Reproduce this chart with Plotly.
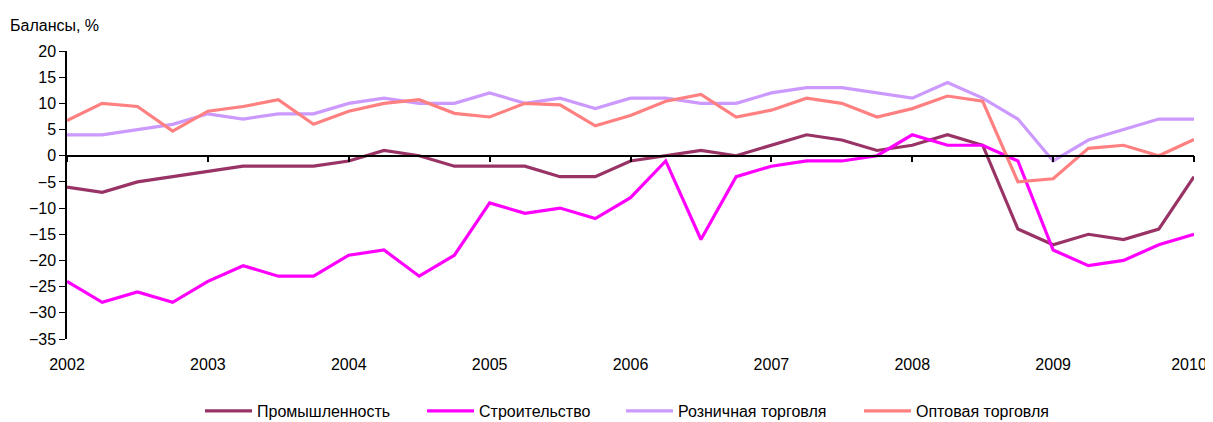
import plotly.graph_objects as go

# Quarterly observations, 2002Q1 .. 2010Q1
start_year = 2002
n_points = 33
x_vals = [start_year + i * 0.25 for i in range(n_points)]

industry = [-6, -7, -5, -4, -3, -2, -2, -2, -1, 1, 0, -2, -2, -2, -4, -4,
            -1, 0, 1, 0, 2, 4, 3, 1, 2, 4, 2, -14, -17, -15, -16, -14, -4]
construction = [-24, -28, -26, -28, -24, -21, -23, -23, -19, -18, -23, -19, -9, -11, -10, -12,
                -8, -1, -16, -4, -2, -1, -1, 0, 4, 2, 2, -1, -18, -21, -20, -17, -15]
retail = [4, 4, 5, 6, 8, 7, 8, 8, 10, 11, 10, 10, 12, 10, 11, 9,
          11, 11, 10, 10, 12, 13, 13, 12, 11, 14, 11, 7, -1, 3, 5, 7, 7]
wholesale = [6.7, 10, 9.4, 4.7, 8.5, 9.4, 10.7, 6, 8.5, 10, 10.7, 8.1, 7.4, 10, 9.7, 5.7,
             7.7, 10.4, 11.7, 7.4, 8.7, 11, 10, 7.4, 9, 11.4, 10.4, -5, -4.4, 1.4, 2, 0, 3.1]

series_names = ["Промышленность", "Строительство", "Розничная торговля", "Оптовая торговля"]
series_values = [industry, construction, retail, wholesale]
series_colors = ["#993366", "#FF00FF", "#CC99FF", "#FF8080"]

year_ticks = list(range(2002, 2011))
y_min, y_max = -35, 20

FONT = "Liberation Sans Narrow, Arial Narrow, Liberation Sans, sans-serif"

# page body has an 8px margin, so the figure is laid out 8px right/down
OFF = 8
W, H = 1213 - OFF, 422 - OFF
ML, MR, MT, MB = 67 - OFF, 19, 51 - OFF, 83
pw, ph = W - ML - MR, H - MT - MB

# keep the last year label inside the visible page edge
px_per_year = pw / (year_ticks[-1] - year_ticks[0])
label_pos = [float(y) for y in year_ticks]
label_pos[-1] -= 5 / px_per_year

legend_ids = ["legend", "legend2", "legend3", "legend4"]
legend_line_px = [206, 428, 627, 865]   # window x where each legend line sample starts
LEG_PAD = 6

fig = go.Figure()
for name, vals, col, lid in zip(series_names, series_values, series_colors, legend_ids):
    fig.add_trace(go.Scatter(x=x_vals, y=vals, mode="lines", name=name, legend=lid,
                             line=dict(color=col, width=3.2)))

# helper trace for the axis drawn at zero
fig.add_trace(go.Scatter(x=x_vals, y=industry, mode="lines", xaxis="x2",
                         line=dict(width=0), opacity=0, showlegend=False,
                         hoverinfo="skip"))

legend_y = -((411 - OFF) - (H - MB)) / ph
legend_layout = {}
for lid, px in zip(legend_ids, legend_line_px):
    legend_layout[lid] = dict(x=(px - OFF - LEG_PAD - ML) / pw, xanchor="left",
                              y=legend_y, yanchor="middle",
                              font=dict(size=16), itemwidth=47,
                              borderwidth=0, bgcolor="rgba(0,0,0,0)")

fig.update_layout(
    width=W, height=H,
    margin=dict(l=ML, r=MR, t=MT, b=MB, autoexpand=False),
    paper_bgcolor="white", plot_bgcolor="white",
    font=dict(family=FONT, size=16, color="#000000"),
    xaxis=dict(range=[2002, 2010], tickvals=label_pos, ticktext=[str(y) for y in year_ticks],
               showline=False, showgrid=False, zeroline=False, ticks="",
               ticklabelstandoff=14, automargin=False),
    xaxis2=dict(range=[2002, 2010], overlaying="x", anchor="free",
                position=(0 - y_min) / (y_max - y_min), side="bottom",
                tickvals=year_ticks, showticklabels=False,
                showline=True, linecolor="black", linewidth=1.5,
                ticks="outside", ticklen=6, tickwidth=1.5, tickcolor="black",
                showgrid=False, zeroline=False, automargin=False),
    yaxis=dict(range=[y_min, y_max], dtick=5, showline=True, linecolor="black",
               linewidth=1.5, ticks="outside", ticklen=6, tickcolor="black",
               showgrid=False, zeroline=False, automargin=False),
    annotations=[dict(text="Балансы, %", xref="paper", yref="paper",
                      x=(8 - OFF - ML) / pw, y=((H - MB) - (25 - OFF)) / ph,
                      xanchor="left", yanchor="middle",
                      showarrow=False, font=dict(size=16))],
    **legend_layout,
)

fig.write_html("out.html")
